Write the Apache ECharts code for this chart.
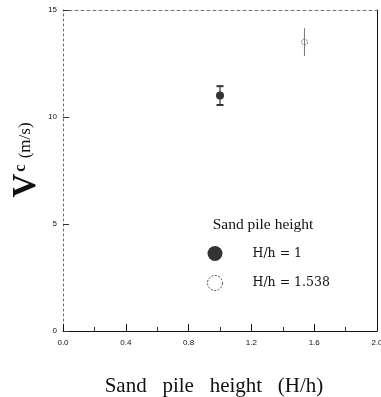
<!DOCTYPE html>
<html><head><meta charset="utf-8">
<script src="https://cdn.jsdelivr.net/npm/echarts@6/dist/echarts.min.js"></script>
<style>html,body{margin:0;padding:0;background:#fff}#c{width:381px;height:397px}</style>
</head><body><div id="c"></div>
<script>
const seriesNames = ['H/h = 1', 'H/h = 1.538'];
const heightRatio = [1.0, 1.538];
const vcValues = [11.0, 13.5];
const vcErrors = [0.44, 0.65];
const xTickLabels = ['0.0', '0.4', '0.8', '1.2', '1.6', '2.0'];
const yTickLabels = ['0', '5', '10', '15'];

const chart = echarts.init(document.getElementById('c'), null, {renderer: 'canvas'});
const tickFont = {fontFamily: 'Liberation Sans, sans-serif', fontSize: 8, color: '#111'};

const errData = heightRatio.map((x, i) => [x, vcValues[i], vcErrors[i]]);

chart.setOption({
  animation: false,
  backgroundColor: '#fff',
  grid: {left: 63, right: 4, top: 10, bottom: 66, containLabel: false, outerBoundsMode: 'none'},
  legend: {
    orient: 'vertical', left: 202, top: 241, itemGap: 14,
    itemWidth: 15, itemHeight: 15, icon: 'circle',
    data: [
      {name: seriesNames[0], itemStyle: {color: '#000'}},
      {name: seriesNames[1], itemStyle: {color: '#fff', borderColor: '#222', borderWidth: 1, borderType: [2, 1.5]}}
    ],
    textStyle: {fontFamily: 'DejaVu Serif, serif', fontSize: 12.5, color: '#111', padding: [0, 0, 0, 25]}
  },
  xAxis: [{
    type: 'value', min: 0, max: 2, interval: 0.4, position: 'bottom',
    axisLine: {onZero: false, lineStyle: {color: '#111', width: 1}},
    axisTick: {inside: true, length: 7, lineStyle: {color: '#111'}},
    minorTick: {show: true, splitNumber: 2, length: 4, lineStyle: {color: '#333'}},
    splitLine: {show: false},
    axisLabel: Object.assign({margin: 8, formatter: v => xTickLabels[Math.round(v / 0.4)]}, tickFont)
  }, {
    type: 'value', min: 0, max: 2, position: 'top',
    axisLine: {onZero: false, lineStyle: {color: '#777', width: 1, type: [3, 3]}},
    axisTick: {show: false}, axisLabel: {show: false}, splitLine: {show: false}
  }],
  yAxis: [{
    type: 'value', min: 0, max: 15, interval: 5, position: 'left',
    axisLine: {onZero: false, lineStyle: {color: '#666', width: 1, type: [2, 3]}},
    axisTick: {inside: true, length: 6, lineStyle: {color: '#333'}},
    splitLine: {show: false},
    axisLabel: Object.assign({margin: 6, formatter: v => yTickLabels[Math.round(v / 5)]}, tickFont)
  }, {
    type: 'value', min: 0, max: 15, position: 'right',
    axisLine: {onZero: false, lineStyle: {color: '#111', width: 1}},
    axisTick: {show: false}, axisLabel: {show: false}, splitLine: {show: false}
  }],
  graphic: [
    {type: 'text', x: 263, y: 225, style: {text: 'Sand pile height', font: '15.5px "Liberation Serif", serif', fill: '#111', align: 'center', verticalAlign: 'middle'}},
    {type: 'text', x: 214, y: 386, style: {text: 'Sand   pile   height   (H/h)', font: '21px "Liberation Serif", serif', fill: '#111', align: 'center', verticalAlign: 'middle'}},
    {type: 'text', x: 26, y: 160, rotation: Math.PI / 2,
      style: {
        text: '{v|V}{c|c} {u|(m/s)}', align: 'center', verticalAlign: 'middle',
        rich: {
          v: {font: 'bold 33px "Liberation Serif", serif', fill: '#111'},
          c: {font: 'bold 16px "Liberation Serif", serif', fill: '#111', padding: [0, 0, 10, 2]},
          u: {font: '17px "Liberation Serif", serif', fill: '#111', padding: [0, 0, 0, 3]}
        }
      }}
  ],
  series: [
    {name: seriesNames[0], type: 'scatter', symbol: 'circle', symbolSize: 8,
      itemStyle: {color: '#000'}, data: [[heightRatio[0], vcValues[0]]], z: 3},
    {name: seriesNames[1], type: 'scatter', symbol: 'circle', symbolSize: 6,
      itemStyle: {color: '#fff', borderColor: '#555', borderWidth: 1, borderType: [2, 1]},
      data: [[heightRatio[1], vcValues[1]]], z: 3},
    {type: 'custom', z: 4, encode: {x: 0, y: 1}, data: errData,
      renderItem: (params, api) => {
        const x = api.value(0), y = api.value(1), e = api.value(2);
        const hi = api.coord([x, y + e]);
        const lo = api.coord([x, y - e]);
        const first = params.dataIndex === 0;
        const col = first ? '#333' : '#777';
        const cw = first ? 3.5 : 0;
        const st = {stroke: col, lineWidth: first ? 1.2 : 1};
        const kids = [{type: 'line', shape: {x1: hi[0], y1: hi[1], x2: lo[0], y2: lo[1]}, style: st}];
        if (cw > 0) {
          kids.push({type: 'line', shape: {x1: hi[0] - cw, y1: hi[1], x2: hi[0] + cw, y2: hi[1]}, style: {stroke: col, lineWidth: 2}});
          kids.push({type: 'line', shape: {x1: lo[0] - cw, y1: lo[1], x2: lo[0] + cw, y2: lo[1]}, style: {stroke: col, lineWidth: 2}});
        }
        return {type: 'group', children: kids};
      }}
  ]
});
</script></body></html>
